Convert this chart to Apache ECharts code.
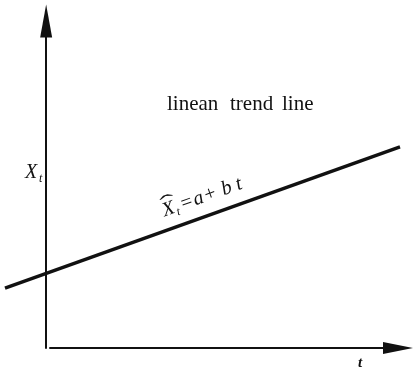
<!DOCTYPE html>
<html>
<head>
<meta charset="utf-8">
<script src="https://cdn.jsdelivr.net/npm/echarts@6/dist/echarts.min.js"></script>
<style>
  html, body { margin: 0; padding: 0; background: #fff; }
  #chart { width: 415px; height: 370px; }
</style>
</head>
<body>
<div id="chart"></div>
<script>
// trend line end points (t, X_t) in arbitrary units; X_t = a + b t
const tValues = [-1, 8.6];
const trendValues = [1.83, 6.15];
const titleWords = ["linean", "trend", "line"];
const titleWordX = [167, 230, 282];

const chart = echarts.init(document.getElementById("chart"), undefined, { renderer: "canvas" });

const serif = "Liberation Serif";
const ink = "#111";
const f = (size, style) => `${style ? style + " " : ""}${size}px "${serif}"`;

// y of a text's middle so that its baseline lands at `base`
const mid = (base, size) => base - 0.34 * size;

// equation pieces laid out along the trend line
const eqPieces = [
  { text: "X", x: 0, size: 20, base: 0 },
  { text: "t", x: 13, size: 12, base: 3 },
  { text: "=", x: 20, size: 20, base: 0, upright: true },
  { text: "a", x: 33, size: 20, base: 0 },
  { text: "+", x: 45, size: 20, base: 0, upright: true },
  { text: "b", x: 63, size: 20, base: 0 },
  { text: "t", x: 78, size: 20, base: 0 },
];

const option = {
  backgroundColor: "#ffffff",
  animation: false,
  grid: [
    { left: 5, right: 15, top: 21, bottom: 22 },
    { left: 50, right: 17, top: 21, bottom: 22 },
  ],
  xAxis: [
    {
      gridIndex: 0,
      type: "value",
      min: -1,
      max: 8.6,
      show: false,
    },
    {
      gridIndex: 1,
      type: "value",
      min: 0,
      max: 10,
      axisLine: {
        show: true,
        onZero: false,
        symbol: ["none", "triangle"],
        symbolSize: [12, 30],
        lineStyle: { color: ink, width: 2 },
      },
      axisTick: { show: false },
      axisLabel: { show: false },
      splitLine: { show: false },
    },
  ],
  yAxis: [
    {
      gridIndex: 0,
      type: "value",
      min: 0,
      max: 10,
      axisLine: {
        show: true,
        onZero: true,
        symbol: ["none", "triangle"],
        symbolSize: [12, 33],
        lineStyle: { color: ink, width: 2 },
      },
      axisTick: { show: false },
      axisLabel: { show: false },
      splitLine: { show: false },
    },
    {
      gridIndex: 1,
      type: "value",
      min: 0,
      max: 10,
      show: false,
    },
  ],
  series: [
    {
      type: "line",
      xAxisIndex: 0,
      yAxisIndex: 0,
      data: tValues.map((t, i) => [t, trendValues[i]]),
      clip: false,
      showSymbol: false,
      lineStyle: { color: ink, width: 3.5 },
    },
  ],
  graphic: [
    ...titleWords.map((w, i) => ({
      type: "text",
      x: titleWordX[i],
      y: mid(112, 21),
      style: { text: w, font: f(21), fill: ink, verticalAlign: "middle" },
    })),
    {
      type: "text",
      x: 25,
      y: mid(180, 20),
      style: { text: "X", font: f(20, "italic"), fill: ink, verticalAlign: "middle" },
    },
    {
      type: "text",
      x: 39,
      y: mid(183, 12),
      style: { text: "t", font: f(12, "italic"), fill: ink, verticalAlign: "middle" },
    },
    {
      type: "group",
      x: 165,
      y: 218,
      rotation: (19.7 * Math.PI) / 180,
      children: [
        ...eqPieces.map((p) => ({
          type: "text",
          x: p.x,
          y: mid(p.base, p.size),
          style: {
            text: p.text,
            font: f(p.size, p.upright ? "" : "italic"),
            fill: ink,
            verticalAlign: "middle",
          },
        })),
        {
          type: "text",
          x: 8,
          y: -13,
          scaleX: 2.2,
          style: { text: "\u02C6", font: f(20), fill: ink, align: "center", verticalAlign: "middle" },
        },
      ],
    },
    {
      type: "text",
      x: 358,
      y: mid(368, 15),
      style: { text: "t", font: f(15, "bold italic"), fill: ink, verticalAlign: "middle" },
    },
  ],
};

chart.setOption(option);
</script>
</body>
</html>
